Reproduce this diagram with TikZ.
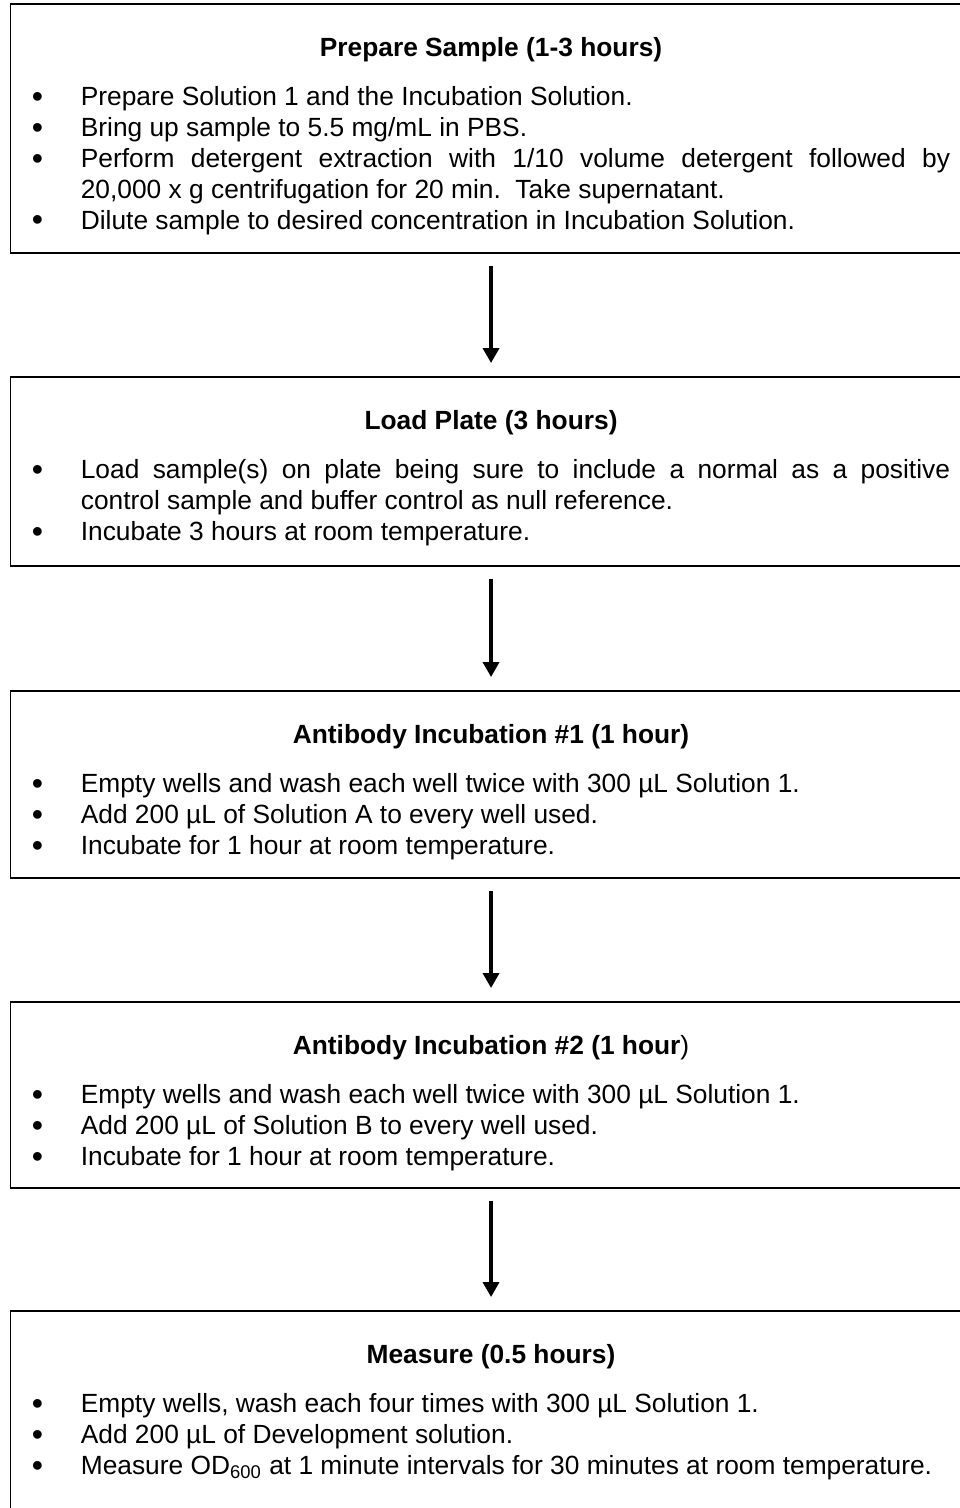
\documentclass[tikz,border=0pt]{standalone}
\usepackage{fontspec}
\setmainfont{Liberation Sans}
\usetikzlibrary{arrows.meta}

\hyphenpenalty=10000
\newcommand\steptitle[1]{{\centering\bfseries #1\par}\vspace{8.2pt}}
\newcommand\stepitem[1]{\par\noindent\hangindent=22.1pt\hangafter=1%
  \makebox[22.1pt][l]{\raisebox{-0.7pt}{\fontsize{14.5}{14}\selectfont\textbullet}}#1\par}

\tikzset{
  stepbox/.style={draw, line width=0.8pt, rectangle, anchor=north west, outer sep=0pt,
    inner xsep=9.7pt, inner ysep=0pt, text width=415pt, text height=23.7pt,
    align=justify, font=\fontsize{11.9}{14}\selectfont},
  flow/.style={-{Triangle[width=7.2pt,length=6.8pt]}, line width=2pt,
    shorten <=5.9pt, shorten >=6.3pt}
}

\begin{document}
\begin{tikzpicture}[x=0.452pt,y=-0.452pt]
  \useasboundingbox (0,0) rectangle (960,1508);

  \node[stepbox, text depth=88.8pt] (prep) at (10.5,4) {%
    \steptitle{Prepare Sample (1-3 hours)}%
    \stepitem{Prepare Solution 1 and the Incubation Solution.}%
    \stepitem{Bring up sample to 5.5 mg/mL in PBS.}%
    \stepitem{Perform detergent extraction with 1/10 volume detergent followed by\linebreak
      20,000 x g centrifugation for 20 min.\ \ Take supernatant.}%
    \stepitem{Dilute sample to desired concentration in Incubation Solution.}};

  \node[stepbox, text depth=61.7pt] (load) at (10.5,377) {%
    \steptitle{Load Plate (3 hours)}%
    \stepitem{Load sample(s) on plate being sure to include a normal as a positive\linebreak
      control sample and buffer control as null reference.}%
    \stepitem{Incubate 3 hours at room temperature.}};

  \node[stepbox, text depth=60.8pt] (abone) at (10.5,691) {%
    \steptitle{Antibody Incubation \#1 (1 hour)}%
    \stepitem{Empty wells and wash each well twice with 300 µL Solution 1.}%
    \stepitem{Add 200 µL of Solution A to every well used.}%
    \stepitem{Incubate for 1 hour at room temperature.}};

  \node[stepbox, text depth=60.4pt] (abtwo) at (10.5,1002) {%
    \steptitle{Antibody Incubation \#2 (1 hour\mdseries)}%
    \stepitem{Empty wells and wash each well twice with 300 µL Solution 1.}%
    \stepitem{Add 200 µL of Solution B to every well used.}%
    \stepitem{Incubate for 1 hour at room temperature.}};

  \node[stepbox, text depth=80pt] (measure) at (10.5,1311) {%
    \steptitle{Measure (0.5 hours)}%
    \stepitem{Empty wells, wash each four times with 300 µL Solution 1.}%
    \stepitem{Add 200 µL of Development solution.}%
    \stepitem{Measure OD\textsubscript{600} at 1 minute intervals for 30 minutes at room temperature.}};

  \draw[flow] (prep) -- (load);
  \draw[flow] (load) -- (abone);
  \draw[flow] (abone) -- (abtwo);
  \draw[flow] (abtwo) -- (measure);
\end{tikzpicture}
\end{document}
